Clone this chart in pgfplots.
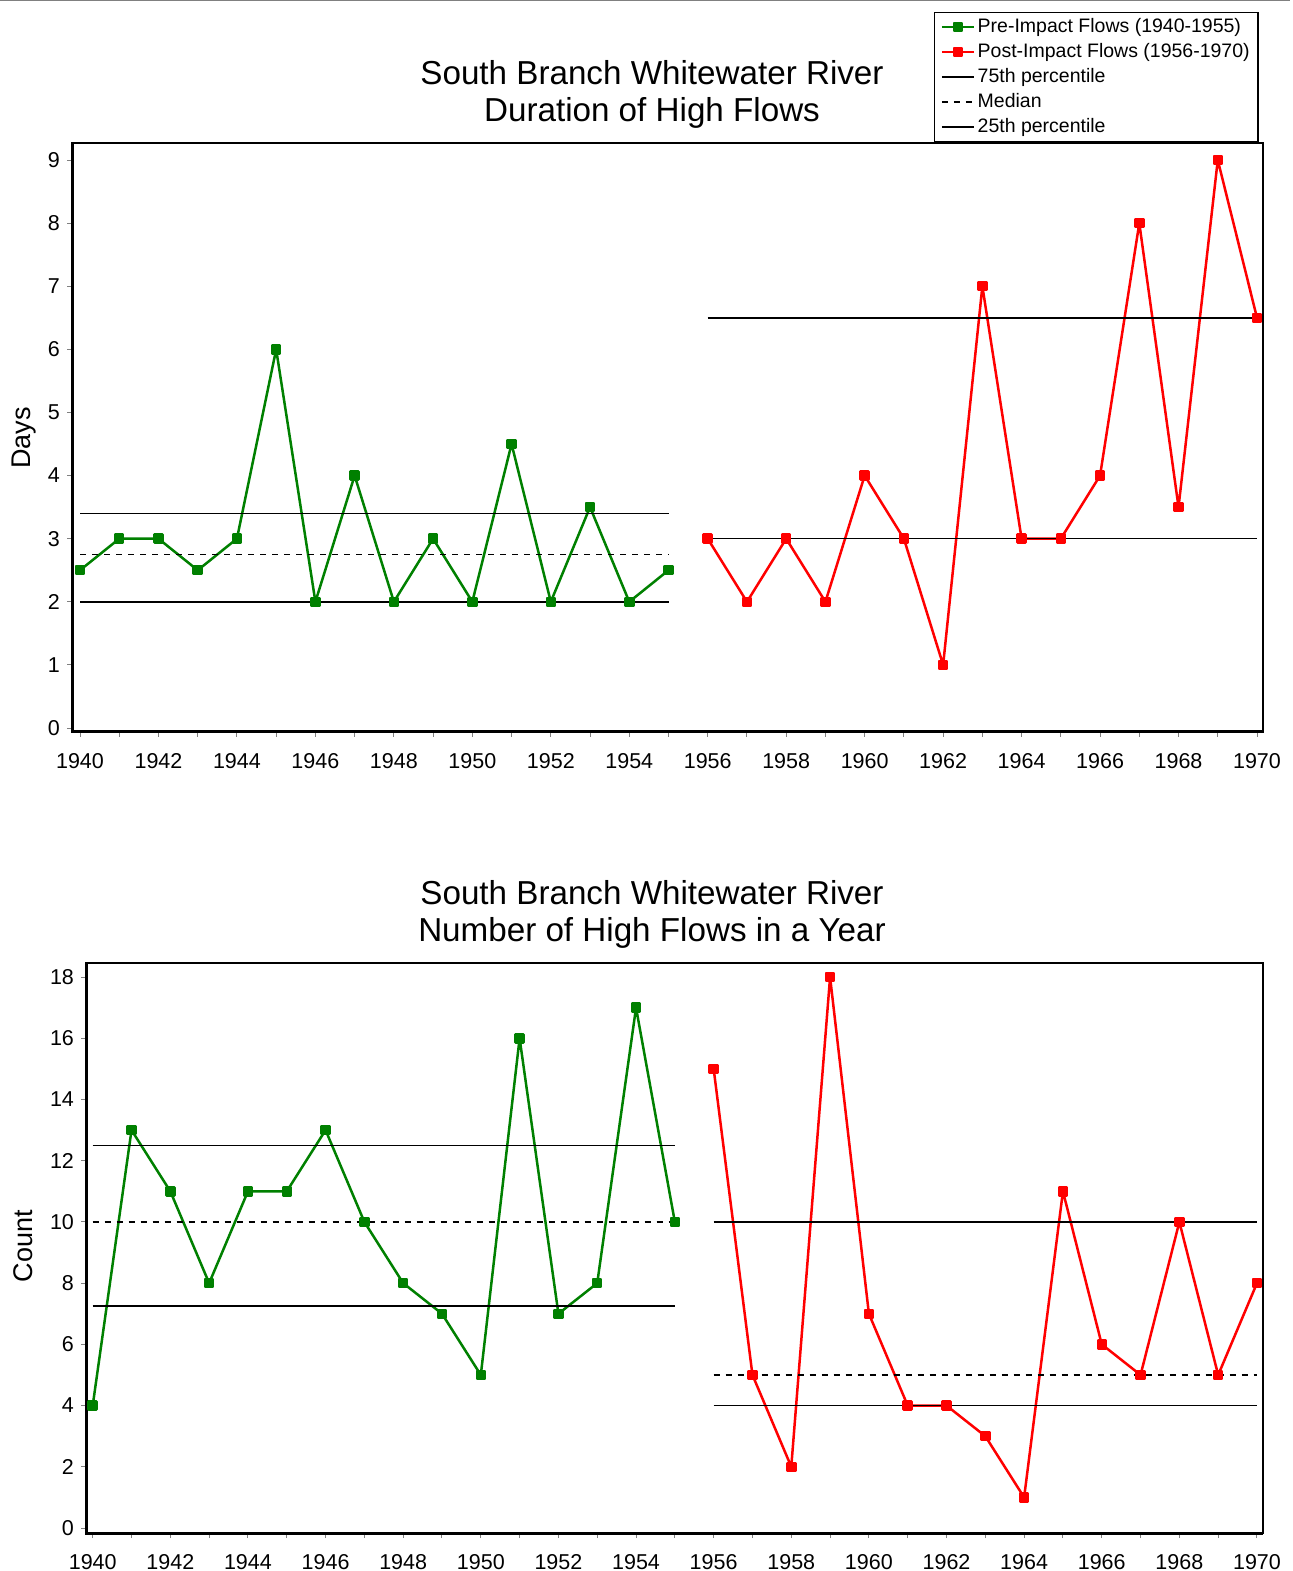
\documentclass[border=0pt]{standalone}
\usepackage{pgfplots}
\pgfplotsset{compat=1.18}
\usepackage{fontspec}
\setmainfont{Liberation Sans}
\definecolor{pregreen}{RGB}{0,128,0}
\definecolor{postred}{RGB}{255,0,0}

\pgfplotsset{
  common/.style={
    scale only axis,
    anchor=south west,
    clip=false,
    tick pos=left,
    tick align=outside,
    major tick length=2.5pt,
    minor tick length=2.5pt,
    every tick/.style={gray, line width=0.5pt},
    axis line style={line width=0.75pt},
    /pgf/number format/assume math mode=true,
    ticklabel style={font=\fontsize{10.75}{12}\selectfont},
    xticklabel style={/pgf/number format/1000 sep={}, yshift=-4.5pt},
    xtick={1940,1942,...,1970},
    minor xtick={1941,1943,...,1969},
    ylabel style={font=\fontsize{13.5}{15}\selectfont, rotate=0, anchor=center},
  },
  pre/.style={pregreen, line width=1.25pt, line join=round, mark=square*, mark size=2pt, mark options={solid}},
  post/.style={postred, line width=1.25pt, line join=round, mark=square*, mark size=2pt, mark options={solid}},
  pct/.style={black, line width=0.75pt, forget plot},
  med/.style={black, line width=0.75pt, dash pattern=on 3pt off 3pt, forget plot},
}

\begin{document}
\begin{tikzpicture}
\path[use as bounding box] (0pt,0pt) rectangle (646.5pt,785.5pt);
\draw[gray, line width=0.5pt] (0pt,785.25pt) -- (645pt,785.25pt);

% Titles
\node[anchor=base, font=\fontsize{16.6}{19}\selectfont] at (326pt,743pt) {South Branch Whitewater River};
\node[anchor=base, font=\fontsize{16.6}{19}\selectfont] at (326pt,724.5pt) {Duration of High Flows};
\node[anchor=base, font=\fontsize{16.6}{19}\selectfont] at (326pt,333pt) {South Branch Whitewater River};
\node[anchor=base, font=\fontsize{16.6}{19}\selectfont] at (326pt,314.5pt) {Number of High Flows in a Year};

% ---------- Top chart ----------
\begin{axis}[common,
  at={(36pt,419.5pt)}, width=595.5pt, height=294.5pt,
  xmin=1939.796, xmax=1970.153, ymin=-0.063, ymax=9.27,
  ytick={0,1,...,9},
  ylabel={Days},
  ylabel style={at={(axis description cs:-0.040,0.499)}, rotate=0},
  legend style={at={(axis description cs:0.9966,1.2224)}, anchor=north east,
    draw=black, line width=0.75pt,
    font=\fontsize{9.75}{12.5}\selectfont,
    inner xsep=3pt, inner ysep=1pt, row sep=0pt,
    nodes={inner sep=1.25pt, text height=7.5pt, text depth=2.5pt},
    cells={anchor=west}},
  legend image code/.code={\draw[mark repeat=2, mark phase=2, #1] plot coordinates {(0pt,0pt) (8pt,0pt) (16pt,0pt)};},
]
\addplot[pre] coordinates {
(1940,2.5) (1941,3) (1942,3) (1943,2.5) (1944,3) (1945,6) (1946,2) (1947,4)
(1948,2) (1949,3) (1950,2) (1951,4.5) (1952,2) (1953,3.5) (1954,2) (1955,2.5)};
\addlegendentry{Pre-Impact Flows (1940-1955)}
\addplot[post] coordinates {
(1956,3) (1957,2) (1958,3) (1959,2) (1960,4) (1961,3) (1962,1) (1963,7)
(1964,3) (1965,3) (1966,4) (1967,8) (1968,3.5) (1969,9) (1970,6.5)};
\addlegendentry{Post-Impact Flows (1956-1970)}
\addlegendimage{black, line width=0.75pt}
\addlegendentry{75th percentile}
\addlegendimage{black, line width=0.75pt, dash pattern=on 3pt off 3pt}
\addlegendentry{Median}
\addlegendimage{black, line width=0.75pt}
\addlegendentry{25th percentile}
% percentile lines pre
\addplot[pct] coordinates {(1940,3.4) (1955,3.4)};
\addplot[med] coordinates {(1940,2.75) (1955,2.75)};
\addplot[pct] coordinates {(1940,2) (1955,2)};
% percentile lines post
\addplot[pct] coordinates {(1956,6.5) (1970,6.5)};
\addplot[med] coordinates {(1956,3) (1970,3)};
\addplot[pct] coordinates {(1956,3) (1970,3)};
\draw[line width=1.5pt] (rel axis cs:0,1) -- (rel axis cs:0,0) -- (rel axis cs:1,0);
\end{axis}

% ---------- Bottom chart ----------
\begin{axis}[common,
  at={(43pt,19pt)}, width=588.5pt, height=285pt,
  xmin=1939.827, xmax=1970.155, ymin=-0.163, ymax=18.46,
  ytick={0,2,...,18},
  ylabel={Count},
  ylabel style={at={(axis description cs:-0.0530,0.503)}, rotate=0},
]
\addplot[pre] coordinates {
(1940,4) (1941,13) (1942,11) (1943,8) (1944,11) (1945,11) (1946,13) (1947,10)
(1948,8) (1949,7) (1950,5) (1951,16) (1952,7) (1953,8) (1954,17) (1955,10)};
\addplot[post] coordinates {
(1956,15) (1957,5) (1958,2) (1959,18) (1960,7) (1961,4) (1962,4) (1963,3)
(1964,1) (1965,11) (1966,6) (1967,5) (1968,10) (1969,5) (1970,8)};
% percentile lines pre
\addplot[pct] coordinates {(1940,12.5) (1955,12.5)};
\addplot[med] coordinates {(1940,10) (1955,10)};
\addplot[pct] coordinates {(1940,7.25) (1955,7.25)};
% percentile lines post
\addplot[pct] coordinates {(1956,10) (1970,10)};
\addplot[med] coordinates {(1956,5) (1970,5)};
\addplot[pct] coordinates {(1956,4) (1970,4)};
\draw[line width=1.5pt] (rel axis cs:0,1) -- (rel axis cs:0,0) -- (rel axis cs:1,0);
\end{axis}
\end{tikzpicture}
\end{document}
